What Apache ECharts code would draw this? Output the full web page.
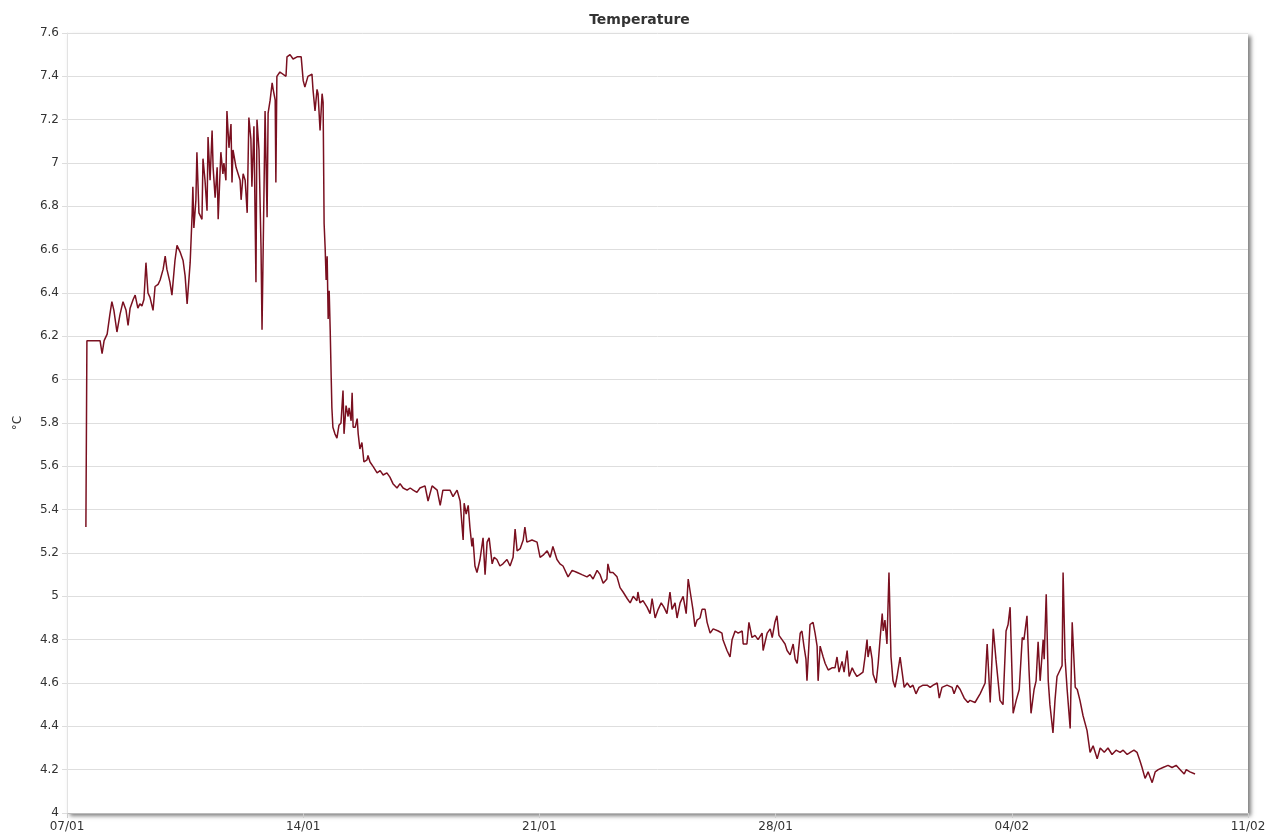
<!DOCTYPE html>
<html>
<head>
<meta charset="utf-8">
<title>Temperature</title>
<script src="https://cdn.jsdelivr.net/npm/echarts@6/dist/echarts.min.js"></script>
<style>
  html, body { margin: 0; padding: 0; background: #fff; }
  #chart { width: 1279px; height: 838px; }
</style>
</head>
<body>
<div id="chart"></div>
<script>
// Days counted from 07/01 00:00; the axis runs five weeks.
const tickLabels = ['07/01', '14/01', '21/01', '28/01', '04/02', '11/02'];
const daysPerTick = 7;

// Week 1: start-up and the warm spell
const week1 = [
  [0.56, 5.32], [0.59, 6.18], [0.92, 6.18], [0.98, 6.18], [1.04, 6.12], [1.10, 6.18],
  [1.19, 6.21], [1.27, 6.30], [1.33, 6.36], [1.39, 6.32], [1.48, 6.22], [1.57, 6.30],
  [1.66, 6.36], [1.75, 6.32], [1.81, 6.25], [1.87, 6.33], [1.96, 6.37], [2.02, 6.39],
  [2.10, 6.33], [2.16, 6.35], [2.22, 6.34], [2.28, 6.37], [2.34, 6.54], [2.40, 6.40],
  [2.46, 6.38], [2.55, 6.32], [2.61, 6.43], [2.70, 6.44], [2.76, 6.46], [2.85, 6.51],
  [2.91, 6.57], [2.96, 6.51], [3.05, 6.45], [3.11, 6.39], [3.20, 6.55], [3.26, 6.62],
  [3.35, 6.59], [3.44, 6.55], [3.50, 6.48], [3.56, 6.35], [3.65, 6.54], [3.71, 6.77],
  [3.73, 6.89], [3.76, 6.70], [3.82, 6.83], [3.85, 7.05], [3.91, 6.77], [4.00, 6.74],
  [4.03, 7.02], [4.09, 6.92], [4.15, 6.78], [4.18, 7.12], [4.24, 6.92], [4.30, 7.15],
  [4.33, 6.98], [4.39, 6.84], [4.45, 6.98], [4.48, 6.74], [4.56, 7.05], [4.62, 6.95],
  [4.65, 7.00], [4.71, 6.92], [4.74, 7.24], [4.80, 7.07], [4.86, 7.18], [4.89, 6.91],
  [4.92, 7.06], [5.01, 6.98], [5.07, 6.95], [5.13, 6.92], [5.16, 6.83], [5.22, 6.95],
  [5.28, 6.92], [5.34, 6.77], [5.39, 7.21], [5.45, 7.11], [5.48, 6.89], [5.54, 7.17],
  [5.60, 6.45], [5.63, 7.20], [5.69, 7.06], [5.75, 6.61], [5.78, 6.23], [5.84, 6.89],
  [5.87, 7.24], [5.93, 6.75], [5.96, 7.23], [6.02, 7.29], [6.08, 7.37], [6.11, 7.34],
  [6.17, 7.29], [6.19, 6.91], [6.22, 7.40], [6.31, 7.42], [6.49, 7.40], [6.52, 7.49],
  [6.61, 7.50], [6.70, 7.48], [6.82, 7.49], [6.94, 7.49]
];

// Week 2: the sharp fall and the plateau near 5.5
const week2 = [
  [7.00, 7.38], [7.05, 7.35], [7.14, 7.40], [7.26, 7.41], [7.29, 7.34], [7.35, 7.24],
  [7.41, 7.34], [7.44, 7.32], [7.50, 7.15], [7.56, 7.32], [7.59, 7.28], [7.62, 6.72],
  [7.65, 6.61], [7.68, 6.46], [7.71, 6.57], [7.74, 6.28], [7.77, 6.41], [7.80, 6.23],
  [7.83, 6.01], [7.85, 5.87], [7.88, 5.78], [7.94, 5.75], [8.00, 5.73], [8.06, 5.79],
  [8.12, 5.80], [8.18, 5.95], [8.21, 5.75], [8.27, 5.88], [8.33, 5.83], [8.36, 5.87],
  [8.42, 5.81], [8.45, 5.94], [8.48, 5.78], [8.54, 5.78], [8.60, 5.82], [8.63, 5.75],
  [8.68, 5.68], [8.74, 5.71], [8.80, 5.62], [8.89, 5.63], [8.92, 5.65], [8.98, 5.62],
  [9.07, 5.60], [9.19, 5.57], [9.28, 5.58], [9.37, 5.56], [9.48, 5.57], [9.57, 5.55],
  [9.66, 5.52], [9.78, 5.50], [9.87, 5.52], [9.96, 5.50], [10.08, 5.49], [10.17, 5.50],
  [10.26, 5.49], [10.37, 5.48], [10.46, 5.50], [10.61, 5.51], [10.70, 5.44], [10.82, 5.51],
  [10.97, 5.49], [11.06, 5.42], [11.14, 5.49], [11.35, 5.49], [11.44, 5.46], [11.56, 5.49],
  [11.65, 5.44], [11.74, 5.26], [11.77, 5.43], [11.83, 5.38], [11.89, 5.42], [11.94, 5.32],
  [12.00, 5.23], [12.03, 5.27], [12.09, 5.14], [12.15, 5.11], [12.24, 5.17], [12.33, 5.27],
  [12.39, 5.10], [12.45, 5.25], [12.51, 5.27], [12.60, 5.15], [12.66, 5.18], [12.74, 5.17],
  [12.83, 5.14], [12.92, 5.15]
];

// Week 3: slow decline towards 4.9
const week3 = [
  [13.04, 5.17], [13.13, 5.14], [13.22, 5.18], [13.28, 5.31], [13.34, 5.21], [13.43, 5.22],
  [13.52, 5.26], [13.57, 5.32], [13.63, 5.25], [13.78, 5.26], [13.93, 5.25], [14.02, 5.18],
  [14.11, 5.19], [14.23, 5.21], [14.32, 5.18], [14.40, 5.23], [14.52, 5.17], [14.61, 5.15],
  [14.70, 5.14], [14.85, 5.09], [14.97, 5.12], [15.12, 5.11], [15.26, 5.10], [15.41, 5.09],
  [15.50, 5.10], [15.59, 5.08], [15.71, 5.12], [15.80, 5.10], [15.89, 5.06], [16.00, 5.08],
  [16.03, 5.15], [16.09, 5.11], [16.18, 5.11], [16.30, 5.09], [16.39, 5.04], [16.48, 5.02],
  [16.60, 4.99], [16.69, 4.97], [16.78, 5.00], [16.89, 4.98], [16.92, 5.02], [16.98, 4.97],
  [17.07, 4.98], [17.19, 4.95], [17.28, 4.92], [17.34, 4.99], [17.43, 4.90], [17.52, 4.94],
  [17.61, 4.97], [17.69, 4.95], [17.78, 4.92], [17.87, 5.02], [17.93, 4.94], [18.02, 4.97],
  [18.08, 4.90], [18.17, 4.97], [18.26, 5.00], [18.35, 4.92], [18.41, 5.08], [18.47, 5.02],
  [18.52, 5.02], [18.55, 4.94], [18.61, 4.86], [18.67, 4.89], [18.76, 4.90], [18.82, 4.94],
  [18.91, 4.94], [18.97, 4.88], [19.06, 4.83], [19.15, 4.85], [19.30, 4.84], [19.41, 4.83],
  [19.44, 4.80], [19.56, 4.75], [19.65, 4.72], [19.71, 4.80], [19.80, 4.84], [19.89, 4.83],
  [20.01, 4.84], [20.04, 4.78], [20.15, 4.78], [20.21, 4.88], [20.30, 4.81], [20.39, 4.82],
  [20.48, 4.80], [20.60, 4.83], [20.63, 4.75], [20.75, 4.83], [20.84, 4.85], [20.90, 4.81],
  [20.98, 4.88]
];

// Week 4: around 4.6 with the first spike
const week4 = [
  [21.04, 4.91], [21.10, 4.82], [21.19, 4.80], [21.28, 4.78], [21.34, 4.75], [21.43, 4.73],
  [21.52, 4.78], [21.58, 4.71], [21.64, 4.69], [21.73, 4.83], [21.78, 4.84], [21.84, 4.77],
  [21.90, 4.71], [21.93, 4.61], [22.02, 4.87], [22.11, 4.88], [22.17, 4.83], [22.23, 4.77],
  [22.26, 4.61], [22.32, 4.77], [22.41, 4.72], [22.47, 4.69], [22.56, 4.66], [22.67, 4.67],
  [22.76, 4.67], [22.82, 4.72], [22.88, 4.65], [22.97, 4.70], [23.03, 4.65], [23.12, 4.75],
  [23.18, 4.63], [23.27, 4.67], [23.33, 4.65], [23.41, 4.63], [23.50, 4.64], [23.59, 4.65],
  [23.65, 4.72], [23.71, 4.80], [23.74, 4.72], [23.80, 4.77], [23.86, 4.71], [23.89, 4.64],
  [23.98, 4.60], [24.04, 4.69], [24.10, 4.81], [24.16, 4.92], [24.19, 4.84], [24.24, 4.89],
  [24.30, 4.78], [24.36, 5.11], [24.42, 4.72], [24.48, 4.61], [24.54, 4.58], [24.60, 4.63],
  [24.69, 4.72], [24.75, 4.65], [24.81, 4.58], [24.90, 4.60], [24.99, 4.58], [25.07, 4.59],
  [25.16, 4.55], [25.25, 4.58], [25.37, 4.59], [25.49, 4.59], [25.58, 4.58], [25.67, 4.59],
  [25.79, 4.60], [25.85, 4.53], [25.93, 4.58], [26.08, 4.59], [26.23, 4.58], [26.29, 4.55],
  [26.38, 4.59], [26.47, 4.57], [26.59, 4.53], [26.70, 4.51], [26.76, 4.52], [26.91, 4.51],
  [27.06, 4.55], [27.21, 4.60]
];

// Week 5: the spiky stretch and the final drop to 4.2
const week5 = [
  [27.27, 4.78], [27.36, 4.51], [27.45, 4.85], [27.53, 4.71], [27.65, 4.52], [27.74, 4.50],
  [27.83, 4.84], [27.89, 4.87], [27.95, 4.95], [28.04, 4.46], [28.13, 4.52], [28.22, 4.57],
  [28.31, 4.81], [28.36, 4.80], [28.45, 4.91], [28.51, 4.66], [28.57, 4.46], [28.66, 4.57],
  [28.72, 4.61], [28.78, 4.79], [28.84, 4.61], [28.93, 4.80], [28.96, 4.71], [29.02, 5.01],
  [29.08, 4.61], [29.13, 4.50], [29.22, 4.37], [29.28, 4.52], [29.34, 4.63], [29.43, 4.66],
  [29.49, 4.68], [29.52, 5.11], [29.58, 4.71], [29.64, 4.57], [29.73, 4.39], [29.79, 4.88],
  [29.88, 4.58], [29.94, 4.57], [30.02, 4.52], [30.11, 4.45], [30.23, 4.38], [30.32, 4.28],
  [30.41, 4.31], [30.53, 4.25], [30.62, 4.30], [30.74, 4.28], [30.85, 4.30], [30.97, 4.27],
  [31.09, 4.29], [31.21, 4.28], [31.30, 4.29], [31.42, 4.27], [31.51, 4.28], [31.62, 4.29],
  [31.71, 4.28], [31.80, 4.24], [31.86, 4.21], [31.95, 4.16], [32.04, 4.19], [32.16, 4.14],
  [32.25, 4.19], [32.34, 4.20], [32.48, 4.21], [32.63, 4.22], [32.75, 4.21], [32.87, 4.22],
  [32.99, 4.20], [33.11, 4.18], [33.17, 4.20], [33.28, 4.19], [33.43, 4.18]
];

const readings = week1.concat(week2, week3, week4, week5);

const chart = echarts.init(document.getElementById('chart'), null, { renderer: 'canvas' });
const labelFont = { color: '#333', fontFamily: 'DejaVu Sans, Verdana, sans-serif', fontSize: 12 };

chart.setOption({
  animation: false,
  backgroundColor: '#fff',
  title: {
    text: 'Temperature',
    left: 'center',
    top: 8,
    textStyle: { fontFamily: 'DejaVu Sans, Verdana, sans-serif', fontSize: 14, fontWeight: 'bold', color: '#333' }
  },
  grid: {
    left: 67, right: 31, top: 33, bottom: 25,
    show: true,
    backgroundColor: '#fff',
    borderWidth: 0,
    shadowColor: 'rgba(0,0,0,0.5)',
    shadowBlur: 4,
    shadowOffsetX: 3,
    shadowOffsetY: 3
  },
  xAxis: {
    type: 'value',
    min: 0,
    max: daysPerTick * (tickLabels.length - 1),
    interval: daysPerTick,
    axisLine: { show: true, lineStyle: { color: '#bbb' } },
    axisTick: { show: true, length: 5, lineStyle: { color: '#ccc' } },
    splitLine: { show: false },
    axisLabel: Object.assign({
      margin: 8,
      formatter: v => tickLabels[Math.round(v / daysPerTick)]
    }, labelFont)
  },
  yAxis: {
    type: 'value',
    min: 4,
    max: 7.6,
    interval: 0.2,
    name: '°C',
    nameLocation: 'middle',
    nameGap: 43,
    nameRotate: 90,
    nameTextStyle: labelFont,
    axisLine: { show: true, lineStyle: { color: '#e3e3e3' } },
    axisTick: { show: true, length: 5, lineStyle: { color: '#ddd' } },
    splitLine: { show: true, lineStyle: { color: '#dedede', width: 1 } },
    axisLabel: Object.assign({
      margin: 8,
      formatter: v => String(parseFloat(v.toFixed(1)))
    }, labelFont)
  },
  series: [{
    type: 'line',
    data: readings,
    showSymbol: false,
    symbol: 'none',
    lineStyle: { color: '#7a1020', width: 1.5 },
    z: 3
  }]
});
</script>
</body>
</html>
